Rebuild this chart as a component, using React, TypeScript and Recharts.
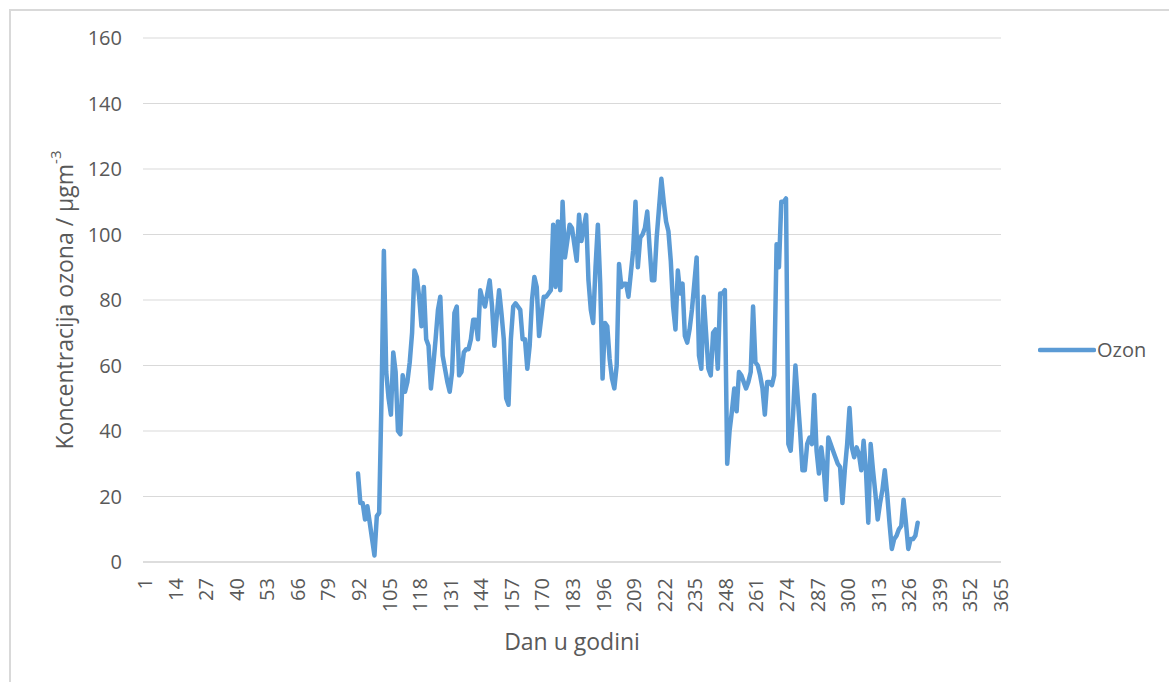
import React from 'react';
import { LineChart, Line, XAxis, YAxis, CartesianGrid } from 'recharts';

// day of year for every category on the x axis
const days: number[] = Array.from({ length: 365 }, (_, i) => i + 1);

// first day with a measurement
const firstDay = 92;

// daily ozone concentration (µg/m³), days 92..330
const ozonValues: number[] = [
  27, 18, 18, 13, 17, 12, 7, 2,
  14, 15, 50, 95, 58, 50, 45, 64, 58, 40,
  39, 57, 52, 55, 61, 70, 89, 87, 81, 72,
  84, 68, 66, 53, 60, 68, 77, 81, 63, 59,
  55, 52, 58, 76, 78, 57, 58, 64, 65, 65,
  68, 74, 74, 68, 83, 80, 78, 82, 86, 78,
  66, 75, 83, 76, 68, 50, 48, 68, 78, 79,
  78, 77, 68, 68, 59, 66, 80, 87, 84, 69,
  75, 81, 81, 82, 83, 103, 84, 104, 83, 110,
  93, 98, 103, 102, 97, 92, 106, 98, 102, 106,
  86, 77, 73, 90, 103, 85, 56, 73, 72, 62,
  56, 53, 60, 91, 84, 85, 85, 81, 88, 95,
  110, 90, 99, 100, 102, 107, 96, 86, 86, 99,
  108, 117, 110, 104, 101, 92, 78, 71, 89, 82,
  85, 69, 67, 71, 77, 85, 93, 63, 59, 81,
  70, 59, 57, 70, 71, 59, 82, 82, 83, 30,
  40, 46, 53, 46, 58, 57, 55, 53, 55, 58,
  78, 61, 60, 57, 53, 45, 55, 55, 54, 57,
  97, 90, 110, 110, 111, 36, 34, 45, 60, 50,
  40, 28, 28, 36, 38, 36, 51, 34, 27, 35,
  29, 19, 38, 36, 34, 32, 30, 29, 18, 28,
  36, 47, 35, 32, 35, 33, 28, 37, 28, 12,
  36, 28, 21, 13, 18, 22, 28, 21, 12, 4,
  7, 8, 10, 11, 19, 12, 4, 7, 7, 8,
  12,
];

const yTicks = [0, 20, 40, 60, 80, 100, 120, 140, 160];

const seriesName = 'Ozon';
const xTitle = 'Dan u godini';
const yTitle = 'Koncentracija ozona / µgm';
const yTitleSup = '-3';

const data = days.map((d) => {
  const idx = d - firstDay;
  const v = idx >= 0 && idx < ozonValues.length ? ozonValues[idx] : null;
  return { day: String(d), ozon: v };
});

const FONT = '"Open Sans", "Segoe UI", sans-serif';
const GRID = '#d9d9d9';
const TEXT = '#595959';
const BLUE = '#5b9bd5';

const XTick = (props: any) => {
  const { x, y, payload } = props;
  return (
    <text
      transform={`translate(${x + 8},${y}) rotate(-90)`}
      textAnchor="end"
      fontFamily={FONT}
      fontSize={20}
      fill={TEXT}
    >
      {payload.value}
    </text>
  );
};

const XTitle = (props: any) => {
  const vb = props.viewBox;
  return (
    <text
      x={vb.x + vb.width / 2}
      y={vb.y + 79}
      textAnchor="middle"
      dominantBaseline="central"
      fontFamily={FONT}
      fontSize={23}
      fill={TEXT}
    >
      {xTitle}
    </text>
  );
};

const YTitle = (props: any) => {
  const vb = props.viewBox;
  const cy = vb.y + vb.height / 2;
  return (
    <text
      transform={`translate(64,${cy}) rotate(-90)`}
      textAnchor="middle"
      dominantBaseline="central"
      fontFamily={FONT}
      fontSize={23}
      fill={TEXT}
    >
      {yTitle}
      <tspan fontSize={15} dy={-9}>{yTitleSup}</tspan>
    </text>
  );
};

// legend drawn next to the plot, like the spreadsheet's right-hand legend
const LegendBox = () => (
  <div
    style={{
      position: 'absolute',
      left: 1038,
      top: 336,
      display: 'flex',
      alignItems: 'center',
      fontFamily: FONT,
      fontSize: 20,
      color: TEXT,
    }}
  >
    <svg width={58} height={8}>
      <line x1={2} y1={4} x2={56} y2={4} stroke={BLUE} strokeWidth={4.5} strokeLinecap="round" />
    </svg>
    <span style={{ marginLeft: 1 }}>{seriesName}</span>
  </div>
);

const App: React.FC = () => {
  return (
    <div style={{ position: 'absolute', left: 0, top: 0, width: 1169, height: 682, background: '#fff', overflow: 'hidden' }}>
      <div
        style={{
          position: 'absolute',
          left: 9,
          top: 9,
          width: 1170,
          height: 700,
          borderTop: `2px solid ${GRID}`,
          borderLeft: `2px solid ${GRID}`,
        }}
      />
      <div style={{ position: 'absolute', left: 0, top: 0 }}>
        <LineChart width={1169} height={682} data={data} margin={{ top: 38, right: 168, bottom: 0, left: 0 }}>
          <CartesianGrid vertical={false} stroke={GRID} strokeWidth={1} />
          <XAxis
            dataKey="day"
            interval={12}
            height={120}
            tickLine={false}
            tickSize={0}
            tickMargin={16}
            axisLine={{ stroke: GRID, strokeWidth: 1.5 }}
            padding={{ left: 1, right: 1 }}
            tick={<XTick />}
            label={<XTitle />}
          />
          <YAxis
            width={143}
            domain={[0, 160]}
            ticks={yTicks}
            axisLine={false}
            tickLine={false}
            tickSize={0}
            tickMargin={21}
            tick={{ fontFamily: FONT, fontSize: 20, fill: TEXT }}
            label={<YTitle />}
          />
          <Line
            type="linear"
            dataKey="ozon"
            name={seriesName}
            stroke={BLUE}
            strokeWidth={4.5}
            strokeLinejoin="round"
            strokeLinecap="round"
            dot={false}
            activeDot={false}
            isAnimationActive={false}
          />
        </LineChart>
      </div>
      <LegendBox />
    </div>
  );
};

export default App;
